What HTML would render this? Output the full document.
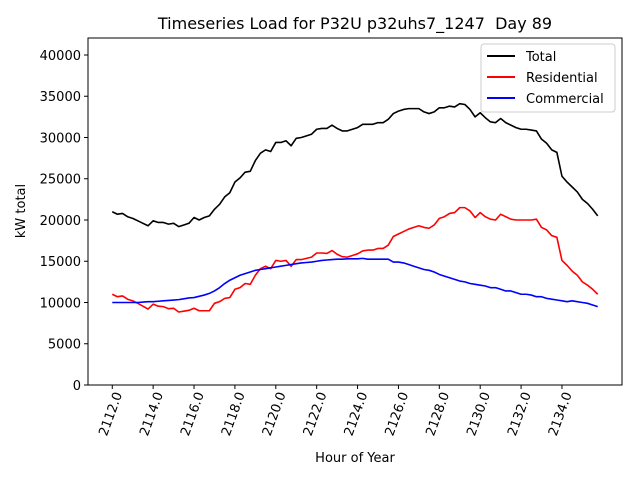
<!DOCTYPE html>
<html><head><meta charset="utf-8"><style>
body{margin:0;background:#fff}
svg{display:block;font-family:"DejaVu Sans","Liberation Sans",sans-serif}
</style></head><body>
<svg id="chart" width="640" height="480"></svg>
<script>
const hours = [];
for (let i = 0; i < 96; i++) hours.push(2112 + i * 0.25);
const totalLoad = [21000,20700,20800,20400,20200,19900,19600,19300,19900,19700,19700,19500,19600,19200,19400,19600,20300,20000,20300,20500,21300,21900,22800,23300,24600,25100,25800,25900,27200,28100,28500,28300,29400,29400,29600,29000,29900,30000,30200,30400,31000,31100,31100,31500,31100,30800,30800,31000,31200,31600,31600,31600,31800,31800,32200,32900,33200,33400,33500,33500,33500,33100,32900,33100,33600,33600,33800,33700,34100,34000,33400,32500,33000,32400,31900,31800,32300,31800,31500,31200,31000,31000,30900,30800,29800,29300,28500,28200,25300,24600,24000,23400,22500,22000,21300,20500];
const residentialLoad = [11000,10700,10800,10400,10200,9900,9550,9200,9800,9550,9500,9250,9300,8850,8950,9050,9300,9000,9000,9000,9900,10100,10500,10600,11600,11800,12300,12200,13300,14100,14400,14100,15100,15000,15100,14400,15200,15200,15350,15500,16000,16000,15950,16300,15850,15550,15500,15700,15900,16250,16350,16350,16550,16550,16950,18000,18300,18600,18900,19100,19300,19100,19000,19400,20200,20400,20800,20900,21500,21500,21100,20300,20900,20400,20100,20000,20700,20400,20100,20000,20000,20000,20000,20100,19100,18800,18100,17900,15100,14500,13800,13300,12500,12100,11600,11000];
const commercialLoad = [10000,10000,10000,10000,10000,10000,10050,10100,10100,10150,10200,10250,10300,10350,10450,10550,10600,10750,10900,11100,11400,11800,12300,12700,13000,13300,13500,13700,13900,14000,14100,14200,14300,14400,14500,14600,14700,14800,14850,14900,15000,15100,15150,15200,15250,15250,15300,15300,15300,15350,15250,15250,15250,15250,15250,14900,14900,14800,14600,14400,14200,14000,13900,13700,13400,13200,13000,12800,12600,12500,12300,12200,12100,12000,11800,11800,11600,11400,11400,11200,11000,11000,10900,10700,10700,10500,10400,10300,10200,10100,10200,10100,10000,9900,9700,9500];
const yTicks = [0,5000,10000,15000,20000,25000,30000,35000,40000];
const xTicks = [2112,2114,2116,2118,2120,2122,2124,2126,2128,2130,2132,2134];

const L=88,R=622,T=38,B=385;
const xMin=2110.8125,xMax=2136.9375,yMin=0,yMax=42060;
const sx=v=>L+(v-xMin)/(xMax-xMin)*(R-L);
const sy=v=>B-(v-yMin)/(yMax-yMin)*(B-T);
const NS="http://www.w3.org/2000/svg";
const svg=document.getElementById('chart');
function mk(tag,attrs,parent){const e=document.createElementNS(NS,tag);for(const k in attrs)e.setAttribute(k,attrs[k]);(parent||svg).appendChild(e);return e;}

const title=mk('text',{x:355,y:29,'text-anchor':'middle','font-size':16,fill:'#000'});
title.textContent='Timeseries Load for P32U p32uhs7_1247\u00a0 Day 89';



yTicks.forEach(v=>{
  const y=sy(v);
  const t=mk('line',{x1:L-4,x2:L,y1:y,y2:y,stroke:'#000','stroke-width':1});
  
  
  const l=mk('text',{x:L-7,y:y+5,'text-anchor':'end','font-size':13,fill:'#000'});
  l.textContent=v;
  
  
});
xTicks.forEach(v=>{
  const x=sx(v);
  const t=mk('line',{x1:x,x2:x,y1:B,y2:B+4,stroke:'#000','stroke-width':1});
  
  
  const l=mk('text',{x:0,y:0,'text-anchor':'end','font-size':13,fill:'#000',transform:`translate(${x+10},${B+9}) rotate(-70)`});
  l.textContent=v.toFixed(1);
  
  
});

function series(vals,color,name){
  const d=vals.map((v,i)=>(i?'L':'M')+sx(hours[i]).toFixed(2)+','+sy(v).toFixed(2)).join(' ');
  const p=mk('path',{d:d,fill:'none',stroke:color,'stroke-width':1.6,'stroke-linejoin':'round'});
  
  
}
series(totalLoad,'#000000','total-line');
series(residentialLoad,'#ff0000','residential-line');
series(commercialLoad,'#0000ff','commercial-line');

const frame=mk('rect',{x:L,y:T,width:R-L,height:B-T,fill:'none',stroke:'#000','stroke-width':1});



const xl=mk('text',{x:355,y:462,'text-anchor':'middle','font-size':13,fill:'#000'});
xl.textContent='Hour of Year';


const yl=mk('text',{x:0,y:0,'text-anchor':'middle','font-size':13,fill:'#000',transform:'translate(25,211) rotate(-90)'});
yl.textContent='kW total';



const lg=mk('g',{});


mk('rect',{x:481,y:44,width:134,height:68,rx:3,fill:'#fff',stroke:'#ccc','stroke-width':1},lg);
[['Total','#000'],['Residential','#f00'],['Commercial','#00f']].forEach((e,i)=>{
  const y=56+i*21;
  const g=mk('g',{},lg);
  
  
  mk('line',{x1:487,x2:515,y1:y,y2:y,stroke:e[1],'stroke-width':2},g);
  const t=mk('text',{x:526,y:y+5,'font-size':13,fill:'#000'},g);
  t.textContent=e[0];
});
</script>
</body></html>
